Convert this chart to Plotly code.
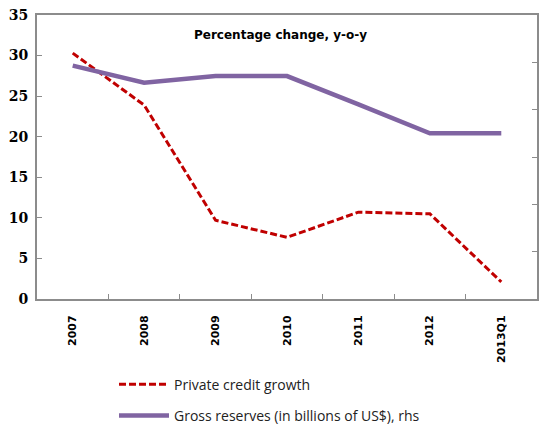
import plotly.graph_objects as go

categories = ["2007", "2008", "2009", "2010", "2011", "2012", "2013Q1"]
private_credit = [30.3, 23.9, 9.7, 7.6, 10.7, 10.5, 2.1]
gross_reserves = [4.93, 4.57, 4.71, 4.71, 4.11, 3.50, 3.50]

fig = go.Figure()
fig.add_trace(go.Scatter(
    x=categories, y=private_credit, mode="lines", name="Private credit growth",
    line=dict(color="#C00000", width=3, dash="7px,3px"), legendgroup="a"))
fig.add_trace(go.Scatter(
    x=categories, y=gross_reserves, mode="lines", name="Gross reserves (in billions of US$), rhs",
    line=dict(color="#8064A2", width=4.5), yaxis="y2", legendgroup="b"))

axis_col = "#8c8c8c"
fig.update_layout(
    width=542, height=426,
    margin=dict(l=37, r=5, t=15, b=127, autoexpand=False),
    plot_bgcolor="white", paper_bgcolor="white",
    xaxis=dict(type="category", range=[-0.5, 6.5], showline=True, linecolor=axis_col, linewidth=2,
               mirror=True, ticks="inside", tickson="boundaries", ticklen=5, tickcolor=axis_col,
               tickwidth=1, tickangle=-90, showgrid=False, ticklabelstandoff=10, automargin=False,
               tickfont=dict(family="DejaVu Sans", size=11, color="black", weight="bold")),
    yaxis=dict(range=[0, 35], dtick=5, showline=True, linecolor=axis_col, linewidth=2,
               ticks="inside", ticklen=5, tickcolor=axis_col, tickwidth=1, showgrid=False,
               zeroline=False, ticklabelstandoff=4, automargin=False,
               tickfont=dict(family="DejaVu Serif", size=14, color="black", weight="bold")),
    yaxis2=dict(range=[0, 6], dtick=1, overlaying="y", side="right", showline=True,
                linecolor=axis_col, linewidth=2, ticks="inside", ticklen=5, tickcolor=axis_col,
                showticklabels=False, showgrid=False, zeroline=False, automargin=False),
    showlegend=True,
    legend=dict(x=0.154, y=-0.245, xanchor="left", yanchor="top", bgcolor="rgba(0,0,0,0)",
                tracegroupgap=10, traceorder="grouped", itemwidth=50,
                font=dict(family="Open Sans", size=14, color="#222")),
    annotations=[dict(text="<b>Percentage change, y-o-y</b>", xref="paper", yref="paper",
                      x=0.486, y=0.93, yanchor="middle", showarrow=False,
                      font=dict(family="DejaVu Sans", size=12, color="black"))],
)

fig.write_html("out.html")
